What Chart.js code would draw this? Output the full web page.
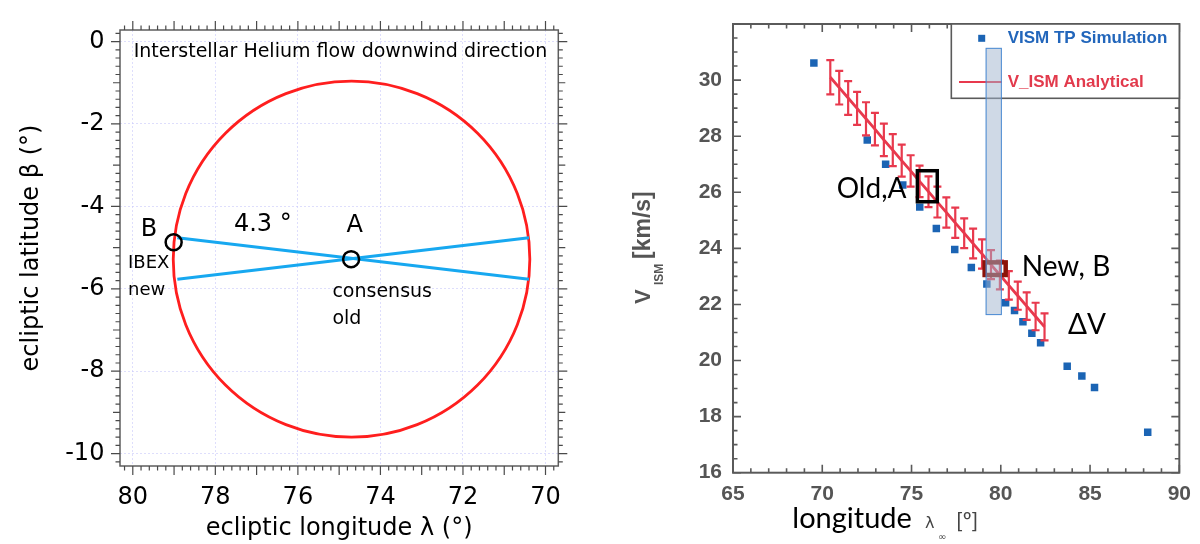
<!DOCTYPE html>
<html><head><meta charset="utf-8">
<script src="https://cdn.jsdelivr.net/npm/chart.js@4.4.1/dist/chart.umd.min.js"></script>
<style>
html,body{margin:0;padding:0;background:#fff;width:1200px;height:544px;overflow:hidden;}
.wrap{position:absolute;top:0;width:600px;height:544px;}
#w1{left:0}#w2{left:600px}
canvas{display:block}
</style></head><body>
<div class="wrap" id="w1"><canvas id="c1" width="600" height="544"></canvas></div>
<div class="wrap" id="w2"><canvas id="c2" width="600" height="544"></canvas></div>
<script>
// ===== Left panel: Interstellar He flow downwind direction =====
const leftLonTicks = [80, 78, 76, 74, 72, 70];
const leftLatTicks = [0, -2, -4, -6, -8, -10];
const circleCenter = [74.70, -5.28];   // [longitude, latitude]
const circleRadius = [4.32];           // degrees
const line1Lon = [78.92, 70.40];
const line1Lat = [-4.76, -5.77];
const line2Lon = [78.92, 70.40];
const line2Lat = [-5.77, -4.76];
const markerLon = [79.01, 74.71];
const markerLat = [-4.87, -5.28];

// ===== Right panel: V_ISM vs longitude =====
const rightLonTicks = [65, 70, 75, 80, 85, 90];
const rightVTicks = [16, 18, 20, 22, 24, 26, 28, 30];
const simLon = [69.53, 72.52, 73.55, 74.51, 75.46, 76.39, 77.42, 78.35, 79.22, 80.27, 80.77, 81.24, 81.74, 82.23, 83.72, 84.54, 85.25, 88.23];
const simV   = [30.61, 27.86, 27.00, 26.26, 25.47, 24.71, 23.96, 23.32, 22.73, 22.06, 21.78, 21.38, 20.97, 20.63, 19.80, 19.45, 19.04, 17.44];
const anaLon = [70.45, 70.95, 71.45, 71.95, 72.45, 72.95, 73.45, 73.95, 74.45, 74.95, 75.45, 75.95, 76.45, 76.95, 77.45, 77.95, 78.45, 78.95, 79.45, 79.95, 80.45, 80.95, 81.45, 81.95, 82.45];
const anaV   = [30.10, 29.73, 29.36, 28.99, 28.62, 28.25, 27.87, 27.50, 27.13, 26.76, 26.39, 26.02, 25.65, 25.28, 24.91, 24.54, 24.17, 23.80, 23.42, 23.05, 22.68, 22.31, 21.94, 21.57, 21.20];
const anaErr = [0.61, 0.60, 0.60, 0.59, 0.59, 0.58, 0.58, 0.57, 0.57, 0.56, 0.56, 0.55, 0.55, 0.54, 0.54, 0.53, 0.53, 0.52, 0.52, 0.51, 0.51, 0.50, 0.49, 0.49, 0.48];
const oldBoxLon = [75.23, 76.54];
const oldBoxV   = [25.60, 26.83];
const newBoxLon = [78.97, 80.40];
const newBoxV   = [22.97, 23.58];
const bandLon = [79.15, 80.06];
const bandV   = [21.62, 31.15];

const pts = (xs, ys) => xs.map((x, i) => ({x: x, y: ys[i]}));

// ---------- Left chart ----------
const leftDeco = {
  id: 'leftDeco',
  beforeDatasetsDraw(chart) {
    const {ctx, scales: {x, y}} = chart;
    const cx = x.getPixelForValue(circleCenter[0]);
    const cy = y.getPixelForValue(circleCenter[1]);
    const rx = Math.abs(x.getPixelForValue(circleCenter[0] + circleRadius[0]) - cx);
    const ry = Math.abs(y.getPixelForValue(circleCenter[1] + circleRadius[0]) - cy);
    ctx.save();
    ctx.strokeStyle = '#ff1e1e'; ctx.lineWidth = 2.8;
    ctx.beginPath(); ctx.ellipse(cx, cy, rx, ry, 0, 0, Math.PI * 2); ctx.stroke();
    ctx.restore();
  },
  afterDraw(chart) {
    const {ctx, chartArea: a, scales: {x, y}} = chart;
    ctx.save();
    ctx.strokeStyle = '#5e5e5e'; ctx.lineWidth = 1.5;
    ctx.strokeRect(a.left, a.top, a.right - a.left, a.bottom - a.top);
    ctx.lineWidth = 1.2; ctx.strokeStyle = '#4a4a4a';
    ctx.beginPath();
    for (let k = Math.ceil(x.min * 5); k <= Math.floor(x.max * 5); k++) {
      const px = x.getPixelForValue(k / 5);
      const len = (k % 5 === 0) ? 9 : 4.5;
      ctx.moveTo(px, a.bottom); ctx.lineTo(px, a.bottom + len);
      ctx.moveTo(px, a.top); ctx.lineTo(px, a.top - len);
    }
    for (let k = Math.ceil(y.min * 5); k <= Math.floor(y.max * 5); k++) {
      const py = y.getPixelForValue(k / 5);
      const len = (k % 10 === 0) ? 9 : (k % 5 === 0 ? 7 : 4.5);
      ctx.moveTo(a.left, py); ctx.lineTo(a.left - len, py);
      ctx.moveTo(a.right, py); ctx.lineTo(a.right + len, py);
    }
    ctx.stroke();
    ctx.fillStyle = '#000'; ctx.textBaseline = 'alphabetic'; ctx.textAlign = 'left';
    ctx.font = '19px "DejaVu Sans"';
    ctx.fillText('Interstellar Helium flow downwind direction', 133.7, 57);
    ctx.font = '24px "DejaVu Sans"';
    ctx.textAlign = 'center';
    ctx.fillText('B', 149, 235.8);
    ctx.fillText('A', 354.6, 232.4);
    ctx.textAlign = 'left';
    ctx.fillText('4.3 °', 233.9, 230.6);
    ctx.font = '18px "DejaVu Sans"';
    ctx.fillText('IBEX', 128, 267.6);
    ctx.fillText('new', 128, 294.5);
    ctx.font = '19px "DejaVu Sans"';
    ctx.fillText('consensus', 332.4, 297);
    ctx.fillText('old', 332.4, 324);
    ctx.restore();
  }
};

new Chart(document.getElementById('c1'), {
  type: 'scatter',
  data: {
    datasets: [
      {label: 'markers', data: pts(markerLon, markerLat), pointStyle: 'circle', pointRadius: 8,
       borderColor: '#000', borderWidth: 2.5, backgroundColor: 'rgba(0,0,0,0)', order: 0},
      {label: 'line1', data: pts(line1Lon, line1Lat), showLine: true, borderColor: '#17a8f0',
       borderWidth: 3, pointRadius: 0, order: 1},
      {label: 'line2', data: pts(line2Lon, line2Lat), showLine: true, borderColor: '#17a8f0',
       borderWidth: 3, pointRadius: 0, order: 1}
    ]
  },
  options: {
    responsive: false, animation: false, devicePixelRatio: 1,
    layout: {padding: {top: 22.7, right: 41.7, left: 0, bottom: 0}},
    plugins: {legend: {display: false}, tooltip: {enabled: false}},
    scales: {
      x: {
        type: 'linear', reverse: true, min: 69.69, max: 80.31,
        afterBuildTicks: s => { s.ticks = leftLonTicks.map(v => ({value: v})); },
        afterFit: s => { s.height = 78; },
        ticks: {padding: 17, font: {family: 'DejaVu Sans', size: 24}, color: '#000',
                maxRotation: 0, autoSkip: false, callback: v => String(v)},
        grid: {color: 'rgba(200,200,250,0.6)', lineWidth: 1, drawTicks: false},
        border: {display: false, dash: [2, 2]},
        title: {display: true, text: 'ecliptic longitude λ (°)', color: '#000',
                font: {family: 'DejaVu Sans', size: 24}, padding: {top: 0, bottom: 1}}
      },
      y: {
        type: 'linear', min: -10.3, max: 0.28,
        afterBuildTicks: s => { s.ticks = leftLatTicks.map(v => ({value: v})); },
        afterFit: s => { s.width = 120; },
        ticks: {padding: 15.6, font: {family: 'DejaVu Sans', size: 24}, color: '#000',
                autoSkip: false, callback: v => String(v)},
        grid: {color: 'rgba(200,200,250,0.6)', lineWidth: 1, drawTicks: false},
        border: {display: false, dash: [2, 2]},
        title: {display: true, text: 'ecliptic latitude β (°)', color: '#000',
                font: {family: 'DejaVu Sans', size: 24}, padding: {top: 17, bottom: 0}}
      }
    }
  },
  plugins: [leftDeco]
});

// ---------- Right chart ----------
const rightDeco = {
  id: 'rightDeco',
  afterDatasetsDraw(chart) {
    const {ctx, scales: {x, y}} = chart;
    ctx.save();
    // error bars
    ctx.strokeStyle = '#e8394d'; ctx.lineWidth = 2.2;
    ctx.beginPath();
    anaLon.forEach((lon, i) => {
      const px = x.getPixelForValue(lon);
      const t = y.getPixelForValue(anaV[i] + anaErr[i]);
      const b = y.getPixelForValue(anaV[i] - anaErr[i]);
      ctx.moveTo(px, t); ctx.lineTo(px, b);
      ctx.moveTo(px - 4, t); ctx.lineTo(px + 4, t);
      ctx.moveTo(px - 4, b); ctx.lineTo(px + 4, b);
    });
    ctx.stroke();
    // Old,A box
    const box = (lons, vs, lw, col) => {
      const l = x.getPixelForValue(lons[0]), r = x.getPixelForValue(lons[1]);
      const t = y.getPixelForValue(vs[1]), b = y.getPixelForValue(vs[0]);
      ctx.strokeStyle = col; ctx.lineWidth = lw;
      ctx.strokeRect(l + lw / 2, t + lw / 2, r - l - lw, b - t - lw);
    };
    box(oldBoxLon, oldBoxV, 3.5, '#000');
    box(newBoxLon, newBoxV, 4.5, '#8c1208');
    // texts
    ctx.fillStyle = '#000'; ctx.textBaseline = 'alphabetic'; ctx.textAlign = 'left';
    ctx.font = '28px Lato';
    ctx.fillText('Old,A', 236.7, 198.3);
    ctx.fillText('New, B', 421.7, 276);
    ctx.fillText('ΔV', 468, 334);
    ctx.restore();
  },
  afterDraw(chart) {
    const {ctx, chartArea: a, scales: {x, y}} = chart;
    ctx.save();
    // frame
    ctx.strokeStyle = '#5a5a5a'; ctx.lineWidth = 2;
    ctx.strokeRect(a.left, a.top, a.right - a.left, a.bottom - a.top);
    // inner ticks
    ctx.lineWidth = 1.6;
    ctx.beginPath();
    for (let v = Math.ceil(x.min); v <= Math.floor(x.max); v++) {
      const px = x.getPixelForValue(v);
      const len = (v % 5 === 0) ? 8 : 4.5;
      ctx.moveTo(px, a.bottom); ctx.lineTo(px, a.bottom - len);
      ctx.moveTo(px, a.top); ctx.lineTo(px, a.top + len);
    }
    for (let k = Math.ceil(y.min * 2); k <= Math.floor(y.max * 2); k++) {
      const py = y.getPixelForValue(k / 2);
      const len = (k % 4 === 0) ? 8 : 4.5;
      ctx.moveTo(a.left, py); ctx.lineTo(a.left + len, py);
      ctx.moveTo(a.right, py); ctx.lineTo(a.right - len, py);
    }
    ctx.stroke();
    // y title
    ctx.save();
    ctx.translate(50, 304); ctx.rotate(-Math.PI / 2);
    ctx.fillStyle = '#555'; ctx.textBaseline = 'alphabetic'; ctx.textAlign = 'left';
    ctx.font = 'bold 22px "Liberation Sans"'; ctx.fillText('V', 0, 0);
    ctx.font = 'bold 12px "Liberation Sans"'; ctx.fillText('ISM', 19, 13);
    ctx.font = 'bold 23px "Liberation Sans"'; ctx.fillText('[km/s]', 45, 0);
    ctx.restore();
    // x title
    ctx.fillStyle = '#000'; ctx.textBaseline = 'alphabetic'; ctx.textAlign = 'left';
    ctx.font = '29px Lato'; ctx.fillText('longitude', 192.3, 528);
    ctx.fillStyle = '#444';
    ctx.font = '16px "DejaVu Sans"'; ctx.fillText('λ', 325, 528);
    ctx.font = '10px "DejaVu Sans"'; ctx.fillText('∞', 338, 540);
    ctx.font = '22px Lato'; ctx.fillText('[º]', 356, 528);
    // legend
    const ds = chart.data.datasets;
    const sim = ds.find(d => d.pointStyle === 'rect');
    const ana = ds.find(d => d !== sim);
    const lw = 228, lh = 74.3, ll = a.right - lw, lt = a.top;
    ctx.fillStyle = '#fff'; ctx.fillRect(ll, lt, lw, lh);
    ctx.strokeStyle = '#5a5a5a'; ctx.lineWidth = 1.6; ctx.strokeRect(ll, lt, lw, lh);
    ctx.fillStyle = sim.backgroundColor; ctx.fillRect(378.2, 34.8, 7, 7);
    ctx.font = 'bold 17px "Liberation Sans"'; ctx.textBaseline = 'middle';
    ctx.fillStyle = '#2266bb'; ctx.fillText(sim.label, 407.7, 38.6);
    ctx.strokeStyle = ana.borderColor; ctx.lineWidth = 2;
    ctx.beginPath(); ctx.moveTo(359, 82); ctx.lineTo(401.7, 82); ctx.stroke();
    ctx.fillStyle = '#e23a4c'; ctx.fillText(ana.label, 407.7, 82);
    // translucent band
    const bl = x.getPixelForValue(bandLon[0]), br = x.getPixelForValue(bandLon[1]);
    const bt = y.getPixelForValue(bandV[1]), bb = y.getPixelForValue(bandV[0]);
    ctx.fillStyle = 'rgba(160,180,205,0.5)'; ctx.fillRect(bl, bt, br - bl, bb - bt);
    ctx.strokeStyle = 'rgba(60,130,210,0.9)'; ctx.lineWidth = 1; ctx.strokeRect(bl + 0.5, bt + 0.5, br - bl - 1, bb - bt - 1);
    ctx.restore();
  }
};

new Chart(document.getElementById('c2'), {
  type: 'scatter',
  data: {
    datasets: [
      {type: 'line', label: 'V_ISM Analytical', data: pts(anaLon, anaV), borderColor: '#e8394d',
       borderWidth: 2.8, pointRadius: 0, fill: false, order: 1},
      {type: 'scatter', label: 'VISM TP Simulation', data: pts(simLon, simV), pointStyle: 'rect',
       pointRadius: 5.3, backgroundColor: '#1b64b4', borderWidth: 0, order: 2}
    ]
  },
  options: {
    responsive: false, animation: false, devicePixelRatio: 1,
    layout: {padding: {top: 24, right: 20, left: 0, bottom: 0}},
    plugins: {legend: {display: false}, tooltip: {enabled: false}},
    scales: {
      x: {
        type: 'linear', min: 65, max: 90,
        afterBuildTicks: s => { s.ticks = rightLonTicks.map(v => ({value: v})); },
        afterFit: s => { s.height = 71.3; },
        ticks: {padding: 9, font: {family: 'Liberation Sans', size: 21, weight: 'bold'}, color: '#555',
                maxRotation: 0, autoSkip: false, callback: v => String(v)},
        grid: {display: false, drawTicks: false},
        border: {display: false}
      },
      y: {
        type: 'linear', min: 16, max: 32,
        afterBuildTicks: s => { s.ticks = rightVTicks.map(v => ({value: v})); },
        afterFit: s => { s.width = 133; },
        ticks: {padding: 11, font: {family: 'Liberation Sans', size: 21, weight: 'bold'}, color: '#555',
                autoSkip: false, callback: v => String(v)},
        grid: {display: false, drawTicks: false},
        border: {display: false}
      }
    }
  },
  plugins: [rightDeco]
});
</script>
</body></html>
